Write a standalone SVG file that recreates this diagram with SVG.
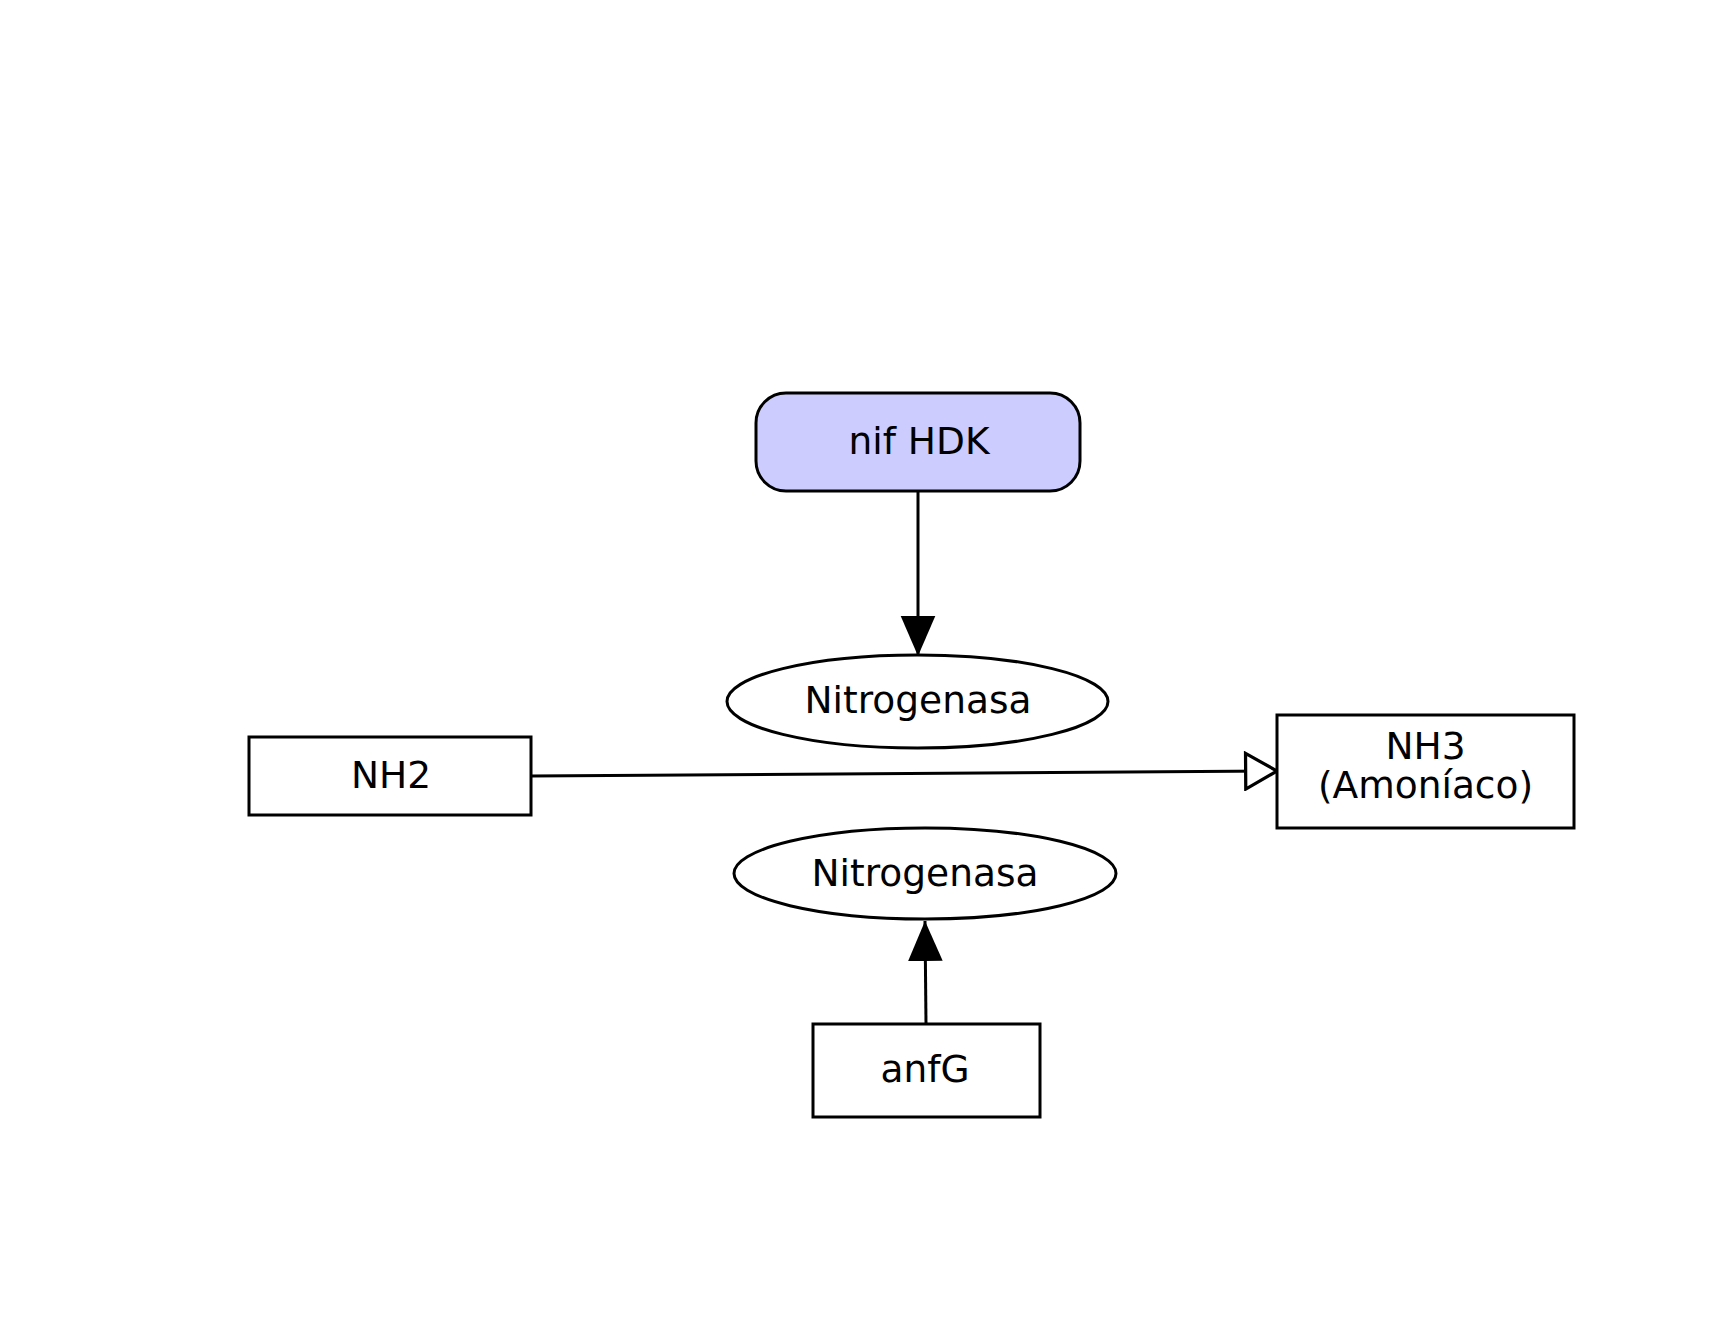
<svg xmlns="http://www.w3.org/2000/svg" width="1719" height="1341" viewBox="0 0 1719 1341">
<style>
.n{fill:#fff;stroke:#000;stroke-width:3}
.t{font-family:"DejaVu Sans",sans-serif;font-size:37.5px;fill:#000;text-anchor:middle}
.e{fill:none;stroke:#000;stroke-width:3}
</style>
<defs>
<marker id="solid" markerUnits="userSpaceOnUse" markerWidth="40" markerHeight="40" viewBox="0 0 37 32" refX="37" refY="16" orient="auto"><path d="M0,0 L37,16 L0,32 Z" fill="#000"/></marker>
<marker id="hollow" markerUnits="userSpaceOnUse" markerWidth="40" markerHeight="40" viewBox="-2 -2 33 37" refX="29" refY="16.5" orient="auto"><path d="M0,0 L29,16.5 L0,33 Z" fill="#fff" stroke="#000" stroke-width="3"/></marker>
</defs>
<rect width="1719" height="1341" fill="#fff"/>
<g id="connectors">
<line class="e" x1="918" y1="491" x2="918" y2="656" marker-end="url(#solid)"/>
<line class="e" x1="531" y1="776" x2="1277" y2="771" marker-end="url(#hollow)"/>
<line class="e" x1="926" y1="1024" x2="925" y2="921" marker-end="url(#solid)"/>
</g>
<g id="nifHDK">
<rect x="756" y="393" width="324" height="98" rx="30" ry="30" fill="#ccccff" stroke="#000" stroke-width="3"/>
<text class="t" x="919" y="454">nif HDK</text>
</g>
<g id="nitrogenasa1">
<ellipse class="n" cx="917.5" cy="701.5" rx="190.5" ry="46.5"/>
<text class="t" x="918" y="713">Nitrogenasa</text>
</g>
<g id="NH2">
<rect class="n" x="249" y="737" width="282" height="78"/>
<text class="t" x="391" y="788">NH2</text>
</g>
<g id="NH3">
<rect class="n" x="1277" y="715" width="297" height="113"/>
<text class="t" x="1425.5" y="759">NH3</text>
<text class="t" x="1425.5" y="798">(Amoníaco)</text>
</g>
<g id="nitrogenasa2">
<ellipse class="n" cx="925" cy="873.5" rx="191" ry="45.5"/>
<text class="t" x="925" y="886">Nitrogenasa</text>
</g>
<g id="anfG">
<rect class="n" x="813" y="1024" width="227" height="93"/>
<text class="t" x="925" y="1082">anfG</text>
</g>
</svg>
